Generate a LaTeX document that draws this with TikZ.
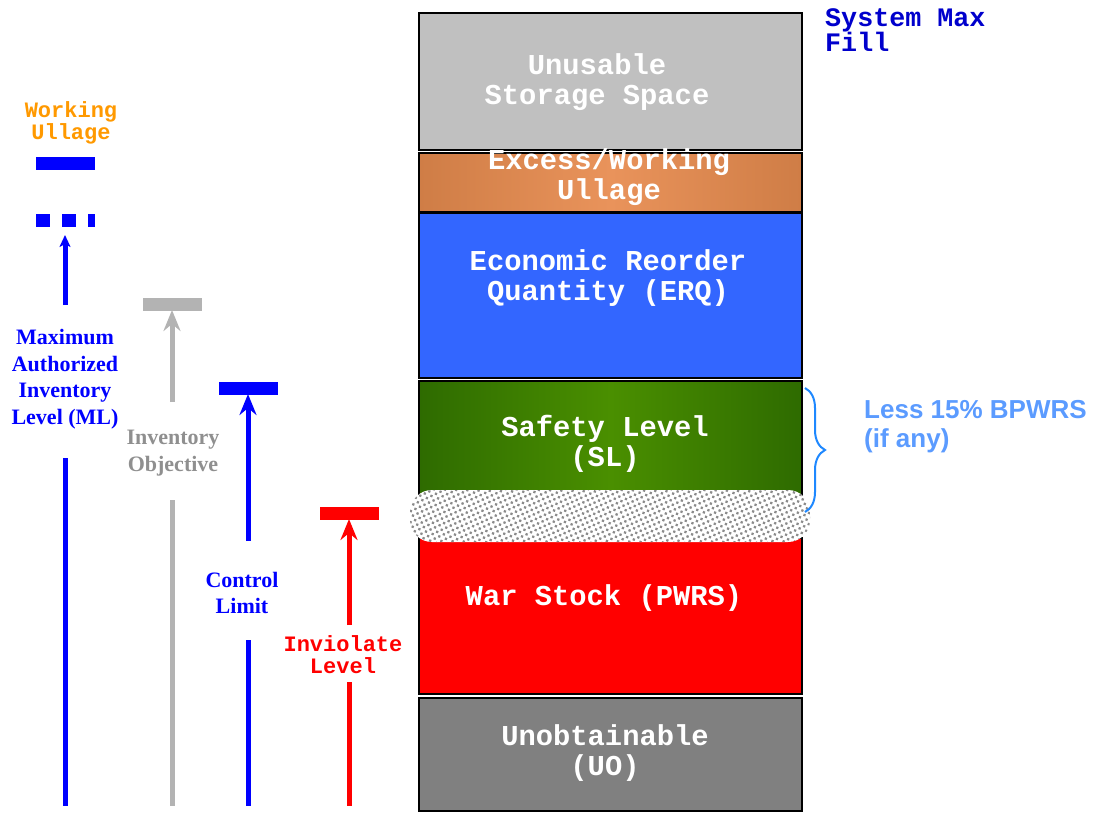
\documentclass[tikz,border=0pt]{standalone}
\usepackage{fontspec}
\usetikzlibrary{arrows.meta,patterns.meta,decorations.pathreplacing}
\newfontfamily\boxfont{Liberation Mono}
\newfontfamily\lblfont{Liberation Serif}
\newfontfamily\bracefont{Liberation Sans}

\definecolor{mblue}{HTML}{0000FF}
\definecolor{sysblue}{HTML}{0000CC}
\definecolor{ogray}{HTML}{B3B3B3}
\definecolor{ogtext}{HTML}{8F8F8F}
\definecolor{ired}{HTML}{FF0000}
\definecolor{wuorange}{HTML}{FF9900}
\definecolor{brblue}{HTML}{1E88FF}
\definecolor{brtext}{HTML}{5B9BFF}
\definecolor{unusable}{HTML}{C0C0C0}
\definecolor{erqblue}{HTML}{3366FF}
\definecolor{uogray}{HTML}{808080}
\definecolor{exedge}{HTML}{CF7D46}
\definecolor{exmid}{HTML}{E9935B}
\definecolor{sledge}{HTML}{2E6B00}
\definecolor{slmid}{HTML}{4A8F00}
\definecolor{dotgray}{HTML}{8A8A8A}

\tikzset{
  tank/.style={draw=black,line width=2.5pt},
  tanktext/.style={text=white,align=center,inner sep=0pt,
    font=\boxfont\bfseries\fontsize{28.8}{30}\selectfont},
  sidetext/.style={align=center,inner sep=0pt,
    font=\lblfont\bfseries\fontsize{22}{26.5}\selectfont},
  monotext/.style={align=center,inner sep=0pt,
    font=\boxfont\bfseries\fontsize{22}{22}\selectfont},
  levelbar/.style={line width=13pt},
  levelline/.style={line width=5pt},
  levelarrow/.style={line width=5pt,-{Stealth[length=21pt,width=17pt,inset=7pt]}},
  smallarrow/.style={line width=5pt,-{Stealth[length=12pt,width=11pt,inset=3pt]}}
}

\begin{document}
\begin{tikzpicture}[x=1pt,y=-1pt]
    \useasboundingbox (0,0) rectangle (1097,813);
    \pgfmathsetmacro{\tl}{419}
    \pgfmathsetmacro{\tr}{802}

    % tank layers
    \draw[tank,fill=unusable] (\tl,13) rectangle (\tr,150);
    \draw[tank,left color=exedge,right color=exedge,middle color=exmid] (\tl,153) rectangle (\tr,212);
    \draw[tank,fill=erqblue] (\tl,213) rectangle (\tr,378);
    \draw[tank,left color=sledge,right color=sledge,middle color=slmid] (\tl,381) rectangle (\tr,520);
    \draw[tank,fill=ired] (\tl,538) rectangle (\tr,694);
    \draw[tank,fill=uogray] (\tl,698) rectangle (\tr,811);
    \fill[white,rounded corners=22pt] (410,490) rectangle (810,542);
    \fill[pattern={Dots[distance=5pt,radius=1.6pt,angle=25]},pattern color=dotgray,rounded corners=22pt] (410,490) rectangle (810,542);

    \node[tanktext] (uss) at (597,82) {Unusable\\Storage Space};
    \node[tanktext] (ewu) at (609,177) {Excess/Working\\Ullage};
    \node[tanktext] (erq) at (608,278) {Economic Reorder\\Quantity (ERQ)};
    \node[tanktext] (sl) at (605,444) {Safety Level\\(SL)};
    \node[tanktext] (pwrs) at (604,598) {War Stock (PWRS)};
    \node[tanktext] (uo) at (605,753) {Unobtainable\\(UO)};

    \node[anchor=west,align=left,inner sep=0pt,text=sysblue,
      font=\boxfont\bfseries\fontsize{26.7}{25}\selectfont] (smf) at (825,30) {System Max\\Fill};

    % safety level brace
    \coordinate (brT) at (805,388);
    \coordinate (brB) at (805,512);
    \draw[brblue,line width=2pt,decorate,decoration={brace,amplitude=20pt}] (brT) -- (brB);
    \node[anchor=west,align=left,inner sep=0pt,text=brtext,
      font=\bracefont\bfseries\fontsize{26}{29}\selectfont] (less) at (864,427) {Less 15\% BPWRS\\(if any)};

    % maximum authorized inventory level
    \node[monotext,text=wuorange] (wu) at (71,123) {Working\\Ullage};
    \coordinate (wuL) at (36,164);
    \coordinate (wuR) at (95,164);
    \coordinate (mlL) at (36,220);
    \coordinate (mlR) at (95,220);
    \draw[levelbar,mblue] (wuL) -- (wuR);
    \draw[levelbar,mblue,dash pattern=on 14pt off 12pt] (mlL) -- (mlR);
    \node[sidetext,text=mblue] (ml) at (65,379) {Maximum\\Authorized\\Inventory\\Level (ML)};
    \coordinate (mlA) at (65,305);
    \coordinate (mlT) at (65,235);
    \coordinate (mlB) at (65,806);
    \coordinate (mlS) at (65,458);
    \draw[smallarrow,mblue] (mlA) -- (mlT);
    \draw[levelline,mblue] (mlS) -- (mlB);

    % inventory objective
    \coordinate (ioL) at (143,304);
    \coordinate (ioR) at (202,304);
    \draw[levelbar,ogray] (ioL) -- (ioR);
    \node[sidetext,text=ogtext] (io) at (173,453) {Inventory\\Objective};
    \coordinate (ioA) at (172,402);
    \coordinate (ioT) at (172,310);
    \coordinate (ioS) at (172,500);
    \coordinate (ioB) at (172,806);
    \draw[levelarrow,ogray] (ioA) -- (ioT);
    \draw[levelline,ogray] (ioS) -- (ioB);

    % control limit
    \coordinate (clL) at (219,388);
    \coordinate (clR) at (278,388);
    \draw[levelbar,mblue] (clL) -- (clR);
    \node[sidetext,text=mblue] (cl) at (242,593) {Control\\Limit};
    \coordinate (clA) at (248,541);
    \coordinate (clT) at (248,394);
    \coordinate (clS) at (248,640);
    \coordinate (clB) at (248,806);
    \draw[levelarrow,mblue] (clA) -- (clT);
    \draw[levelline,mblue] (clS) -- (clB);

    % inviolate level
    \coordinate (ivL) at (320,513);
    \coordinate (ivR) at (379,513);
    \draw[levelbar,ired] (ivL) -- (ivR);
    \node[monotext,text=ired] (iv) at (343,655) {Inviolate\\Level};
    \coordinate (ivA) at (349,625);
    \coordinate (ivT) at (349,519);
    \coordinate (ivS) at (349,682);
    \coordinate (ivB) at (349,806);
    \draw[levelarrow,ired] (ivA) -- (ivT);
    \draw[levelline,ired] (ivS) -- (ivB);
\end{tikzpicture}
\end{document}
